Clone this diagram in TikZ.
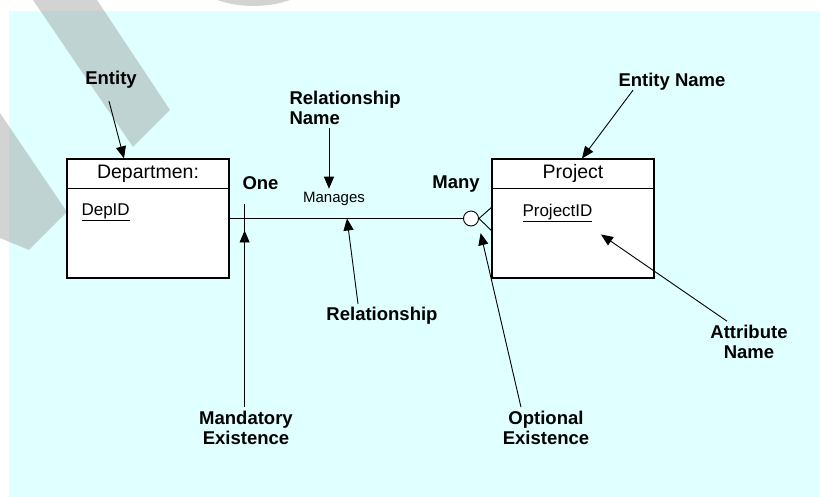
\documentclass[tikz,border=0pt]{standalone}
\usepackage{fontspec}
\setmainfont{Liberation Sans}
\usetikzlibrary{arrows.meta}
\definecolor{panel}{HTML}{E0FFFF}

\begin{document}
\begin{tikzpicture}[x=1pt,y=-1pt,
  entbox/.style={draw,line width=1.2pt,fill=white,minimum width=162pt,minimum height=119pt,inner sep=0pt},
  note/.style={font=\bfseries\fontsize{18.5}{20}\selectfont,align=center},
  idtext/.style={font=\fontsize{17}{18}\selectfont,anchor=west},
  pointer/.style={-{Triangle[length=12pt,width=10pt]},line width=0.9pt},
  wmark/.style={fill=black!44,fill opacity=0.39}]
\useasboundingbox (0,0) rectangle (820,497);
\fill[white] (0,0) rectangle (820,497);
\fill[panel] (9,11) rectangle (820,497);

% watermark
\begin{scope}
\clip (0,0) rectangle (820,497);
\fill[wmark] (33,0) -- (97,0) -- (170,110) -- (133,147) -- cycle;
\fill[wmark] (0,113) -- (67,212) -- (29,250) -- (0,238) -- cycle;
\fill[wmark] (253.5,-108) circle (114pt);
\end{scope}

% entities
\node[entbox] (dept) at (148,218.5) {};
\node[entbox] (proj) at (573,218.5) {};
\draw[line width=1.2pt] ([yshift=-30pt]dept.north west) -- ([yshift=-30pt]dept.north east);
\draw[line width=1.2pt] ([yshift=-30pt]proj.north west) -- ([yshift=-30pt]proj.north east);
\node[font=\fontsize{19.5}{20}\selectfont] (deptname) at ([yshift=-15pt]dept.north) {Departmen:};
\node[font=\fontsize{19.5}{20}\selectfont] (projname) at ([yshift=-15pt]proj.north) {Project};
\node[idtext] (depid) at (78,212) {\underline{DepID}};
\node[idtext] (projid) at (519,213) {\underline{ProjectID}};

% relationship
\node[draw,circle,fill=white,minimum size=15pt,inner sep=0pt,line width=0.9pt] (opt) at (471,218.5) {};
\draw[line width=0.9pt] (dept.east) -- (opt.west);
\draw[line width=0.9pt] (opt.east) -- ([yshift=11pt]proj.west) (opt.east) -- ([yshift=-12pt]proj.west);
\coordinate (tick) at ([xshift=15pt]dept.east);
\draw[line width=0.9pt] ([yshift=14pt]tick) -- ([yshift=-15pt]tick);
\coordinate (relpt) at (347,218.5);

% labels
\node[note] (one) at (260.5,183) {One};
\node[note] (many) at (456,184) {Many};
\node[font=\fontsize{15}{16}\selectfont] (manages) at (334,199) {Manages};
\node[note] (entity) at (111,80) {Entity};
\node[note] (entname) at (672,82) {Entity Name};
\node[note,align=left,anchor=west] (relname) at (286,107.5) {Relationship\\Name};
\node[note] (rel) at (382,316) {Relationship};
\node[note] (mand) at (246,427.5) {Mandatory\\Existence};
\node[note] (optx) at (546,427.5) {Optional\\Existence};
\node[note] (attr) at (749,341.5) {Attribute\\Name};

% pointers
\draw[pointer] ([xshift=-2pt,yshift=-9pt]entity.south) -- ([xshift=-24pt]dept.north);
\draw[pointer] ([xshift=18pt,yshift=4pt]entname.south west) -- ([xshift=9pt]proj.north);
\draw[pointer] ([xshift=-5pt]manages.north |- relname.south) -- ([xshift=-5pt]manages.north);
\draw[pointer] ([xshift=-24pt]rel.north) -- (relpt);
\draw[pointer] (mand.north -| tick) -- ([yshift=-12pt]tick);
\draw[pointer] ([xshift=-25pt]optx.north) -- ([xshift=4pt,yshift=-9pt]opt.south east);
\draw[pointer] ([xshift=-22pt]attr.north) -- ([xshift=5pt,yshift=-9pt]projid.south east);
\end{tikzpicture}
\end{document}
